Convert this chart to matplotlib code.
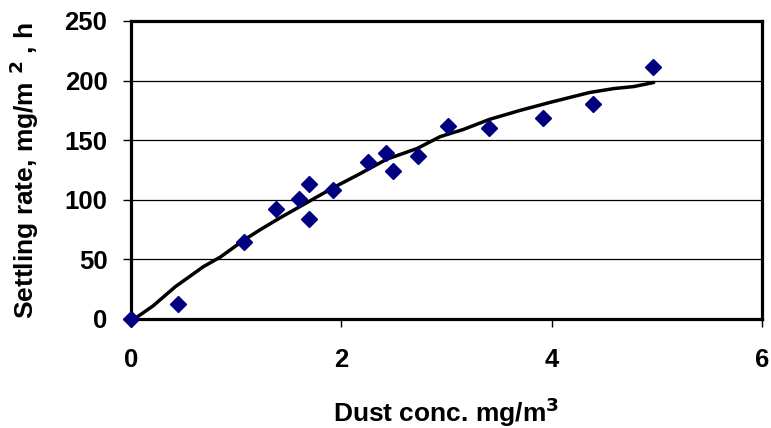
import matplotlib
matplotlib.use("Agg")
import matplotlib.pyplot as plt
import numpy as np

# Measured data points (diamonds)
conc = [0.0, 0.45, 1.07, 1.38, 1.60, 1.69, 1.69, 1.92, 2.25, 2.42, 2.49, 2.73, 3.01, 3.40, 3.92, 4.39, 4.96]
rate = [0.0, 13, 65, 92, 101, 113, 84, 108, 132, 139, 124, 137, 162, 160, 169, 180, 211]

# Fitted curve
curve_x = [0.04, 0.21, 0.42, 0.69, 0.85, 1.07, 1.23, 1.42, 1.61, 1.92, 2.18, 2.43, 2.72,
           2.94, 3.16, 3.41, 3.70, 3.98, 4.36, 4.59, 4.78, 4.97]
curve_y = [0.6, 11, 27, 44, 52, 66, 75, 85, 94.5, 110, 122, 134, 143,
           153, 159, 167.5, 175, 181.6, 190, 193.3, 195, 198.4]

xticks = [0, 2, 4, 6]
yticks = [0, 50, 100, 150, 200, 250]

plt.rcParams['font.family'] = ['Liberation Sans', 'DejaVu Sans']
plt.rcParams['font.weight'] = 'bold'

fig = plt.figure(figsize=(7.71, 4.28), dpi=100)
ax = fig.add_axes([131/771, 1-319/428, (762-131)/771, (319-21)/428])

for y in yticks[1:-1]:
    ax.axhline(y, color='black', lw=0.9, zorder=1)

ax.plot(curve_x, curve_y, color='black', lw=2.5, zorder=2, solid_capstyle='round')
ax.plot(conc, rate, linestyle='none', marker='D', markersize=7.8,
        color='#000080', markeredgecolor='#000080', zorder=3, clip_on=False)

ax.set_xlim(0, 6)
ax.set_ylim(0, 250)
ax.set_xticks(xticks)
ax.set_yticks(yticks)
ax.set_xticklabels([str(v) for v in xticks], fontsize=18.5, fontweight='bold')
ax.set_yticklabels([str(v) for v in yticks], fontsize=18.5, fontweight='bold')
ax.tick_params(axis='both', direction='out', length=6, width=1, color='black')
ax.tick_params(axis='y', pad=11)
ax.tick_params(axis='x', pad=15)

for s in ax.spines.values():
    s.set_linewidth(2.3)
    s.set_color('black')

ax.set_xlabel('Dust conc. mg/m$^\\mathbf{3}$', fontsize=19, fontweight='bold', labelpad=17)
ax.set_ylabel('Settling rate, mg/m $^\\mathbf{2}$ , h', fontsize=19, fontweight='bold', labelpad=17)

fig.savefig('out.png', dpi=100)
